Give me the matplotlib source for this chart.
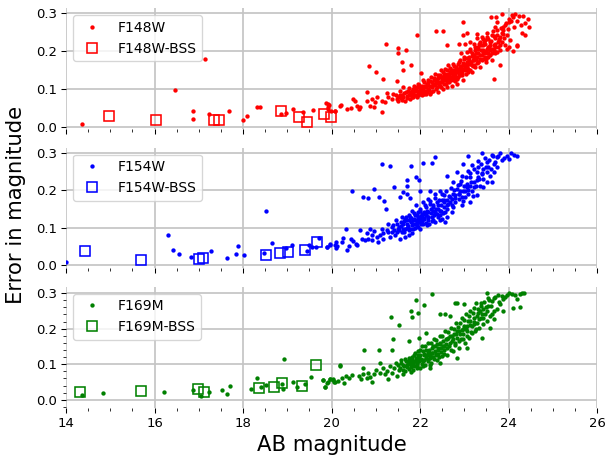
import matplotlib.pyplot as plt
from matplotlib.ticker import MultipleLocator

# (AB magnitude, error) pairs
f148w = [
    (14.35, 0.007), (16.47, 0.098), (17.13, 0.180), (16.86, 0.041), (16.86, 0.020), (17.23, 0.035),
    (17.68, 0.042), (18.00, 0.019), (18.10, 0.028), (18.32, 0.053), (18.39, 0.053), (18.86, 0.034),
    (18.96, 0.036), (19.12, 0.047), (19.36, 0.038), (19.57, 0.045), (19.88, 0.064), (19.94, 0.059),
    (19.91, 0.046), (19.98, 0.043), (20.08, 0.041), (20.18, 0.056),
    (19.93, 0.060), (19.91, 0.052), (20.08, 0.043), (20.21, 0.058), (20.34, 0.047), (20.43, 0.050),
    (20.48, 0.074), (20.52, 0.069), (20.57, 0.056), (20.61, 0.047), (20.64, 0.053), (20.79, 0.092),
    (20.79, 0.069), (20.87, 0.056), (20.91, 0.074), (20.95, 0.052), (20.98, 0.065), (21.02, 0.078),
    (21.13, 0.040), (21.13, 0.069), (21.21, 0.065), (21.25, 0.089), (21.28, 0.078), (21.36, 0.074),
    (21.40, 0.087), (21.47, 0.074), (21.51, 0.078), (21.55, 0.096), (21.59, 0.083), (21.62, 0.105),
    (21.66, 0.069), (21.68, 0.092), (21.74, 0.083), (21.74, 0.103), (21.77, 0.074), (21.81, 0.096),
    (21.85, 0.087), (21.86, 0.107), (21.92, 0.078), (21.94, 0.096), (21.96, 0.114), (22.00, 0.087),
    (22.00, 0.103), (22.04, 0.083), (22.06, 0.123), (22.07, 0.096), (22.11, 0.109), (22.14, 0.087),
    (22.17, 0.118), (22.19, 0.100), (22.23, 0.087), (22.24, 0.132), (22.26, 0.109), (22.30, 0.096),
    (22.32, 0.123), (22.34, 0.140), (22.38, 0.105), (22.39, 0.118), (22.41, 0.092), (22.44, 0.132),
    (22.45, 0.109), (22.47, 0.149), (22.49, 0.123), (22.51, 0.100), (22.53, 0.136), (22.54, 0.114),
    (22.56, 0.154), (22.59, 0.123), (22.60, 0.105), (22.63, 0.140), (22.64, 0.163), (22.66, 0.118),
    (22.68, 0.132), (22.69, 0.149), (22.72, 0.109), (22.74, 0.136), (22.75, 0.167), (22.77, 0.123),
    (22.79, 0.145), (22.81, 0.158), (22.83, 0.127), (22.84, 0.114), (22.87, 0.154), (22.89, 0.172),
    (22.90, 0.136), (22.92, 0.194), (22.94, 0.149), (22.96, 0.163), (22.98, 0.123), (22.99, 0.180),
    (23.02, 0.158), (23.04, 0.140), (23.05, 0.172), (23.07, 0.198), (23.09, 0.154), (23.11, 0.185),
    (23.13, 0.167), (23.14, 0.207), (23.17, 0.145), (23.19, 0.176), (23.21, 0.189), (23.22, 0.163),
    (23.24, 0.212), (23.27, 0.180), (23.28, 0.234), (23.30, 0.172), (23.32, 0.194), (23.34, 0.220),
    (23.36, 0.158), (23.37, 0.203), (23.39, 0.238), (23.42, 0.180), (23.43, 0.216), (23.45, 0.194),
    (23.47, 0.229), (23.49, 0.172), (23.51, 0.207), (23.52, 0.247), (23.54, 0.185), (23.57, 0.225),
    (23.58, 0.203), (23.62, 0.176), (23.64, 0.252), (23.66, 0.216), (23.69, 0.194), (23.73, 0.243),
    (23.77, 0.212), (23.79, 0.229), (23.85, 0.247), (23.87, 0.256), (23.90, 0.234), (24.00, 0.212),
    (24.03, 0.229), (24.18, 0.216),
    (21.77, 0.092), (21.85, 0.100), (21.89, 0.083), (21.92, 0.105), (21.96, 0.092), (22.00, 0.096),
    (22.04, 0.109), (22.07, 0.103), (22.11, 0.096), (22.15, 0.114), (22.19, 0.123), (22.23, 0.109),
    (22.26, 0.118), (22.30, 0.114), (22.34, 0.127), (22.38, 0.123), (22.41, 0.136), (22.45, 0.118),
    (22.49, 0.132), (22.53, 0.123), (22.56, 0.140), (22.60, 0.132), (22.64, 0.127), (22.68, 0.145),
    (22.72, 0.132), (22.75, 0.149), (22.79, 0.132), (22.83, 0.145), (22.87, 0.140), (22.90, 0.158),
    (22.94, 0.136), (22.98, 0.154), (23.02, 0.149), (23.05, 0.158), (23.09, 0.167), (23.13, 0.149),
    (23.17, 0.163), (23.21, 0.176), (23.24, 0.158), (23.28, 0.185), (23.32, 0.172), (23.36, 0.189),
    (23.39, 0.176), (23.43, 0.198), (23.47, 0.185), (23.51, 0.194), (23.54, 0.212), (23.58, 0.189),
    (23.62, 0.207), (23.66, 0.203), (23.69, 0.220), (23.73, 0.198), (23.77, 0.225), (23.81, 0.216),
    (21.51, 0.069), (21.59, 0.071), (21.71, 0.076), (21.81, 0.078), (21.62, 0.078), (21.46, 0.083),
    (22.96, 0.278), (21.92, 0.244), (22.36, 0.254), (22.52, 0.252), (21.24, 0.220), (21.51, 0.208),
    (21.50, 0.196), (21.69, 0.203), (21.60, 0.171), (21.79, 0.163), (20.84, 0.161), (21.00, 0.144),
    (21.62, 0.149), (21.17, 0.127), (21.49, 0.121), (22.02, 0.142), (22.60, 0.215), (22.88, 0.218),
    (23.02, 0.220), (23.05, 0.247), (22.98, 0.244), (23.28, 0.245), (23.66, 0.127), (23.81, 0.164),
    (24.09, 0.200), (24.20, 0.214),
    (23.60, 0.290), (23.71, 0.290), (23.85, 0.299), (23.73, 0.278), (23.69, 0.265), (23.88, 0.263),
    (23.94, 0.274), (24.01, 0.284), (24.07, 0.296), (24.15, 0.299), (24.24, 0.294), (24.33, 0.292),
    (24.43, 0.284), (24.37, 0.274), (24.46, 0.265), (24.30, 0.247), (24.37, 0.243), (24.02, 0.276),
    (24.12, 0.265), (23.96, 0.243), (23.81, 0.238), (23.62, 0.243), (23.69, 0.234), (23.51, 0.238),
    (23.43, 0.231), (23.36, 0.225), (23.47, 0.220), (23.58, 0.216), (23.85, 0.225), (23.92, 0.216),
    (23.96, 0.207), (23.81, 0.203), (23.69, 0.198), (23.54, 0.194), (23.43, 0.203), (23.32, 0.212),
    (23.24, 0.203), (23.17, 0.196), (23.21, 0.220), (23.13, 0.225),
    (21.55, 0.085), (21.58, 0.076), (21.64, 0.090), (21.70, 0.082), (21.72, 0.095), (21.78, 0.086),
    (21.83, 0.079), (21.88, 0.094), (21.90, 0.101), (21.95, 0.084), (21.98, 0.110), (22.02, 0.092),
    (22.05, 0.100), (22.08, 0.088), (22.10, 0.118), (22.13, 0.104), (22.16, 0.092), (22.18, 0.110),
    (22.21, 0.098), (22.22, 0.120), (22.25, 0.093), (22.28, 0.104), (22.31, 0.130), (22.33, 0.110),
    (22.36, 0.099), (22.37, 0.115), (22.40, 0.128), (22.43, 0.112), (22.46, 0.138), (22.48, 0.106),
    (22.50, 0.118), (22.52, 0.145), (22.55, 0.128), (22.58, 0.112), (22.61, 0.150), (22.62, 0.122),
    (22.65, 0.138), (22.67, 0.156), (22.70, 0.125), (22.73, 0.143), (22.76, 0.160), (22.78, 0.138),
    (22.80, 0.120), (22.82, 0.152), (22.85, 0.165), (22.86, 0.133), (22.88, 0.148), (22.91, 0.176),
    (22.93, 0.160), (22.95, 0.143), (22.97, 0.170), (23.00, 0.185), (23.03, 0.165), (23.06, 0.182),
    (23.08, 0.146), (23.10, 0.176), (23.12, 0.200), (23.15, 0.172), (23.18, 0.186), (23.20, 0.160),
    (23.23, 0.182), (23.26, 0.196), (23.29, 0.168), (23.31, 0.205), (23.35, 0.178), (23.38, 0.215),
    (23.41, 0.190), (23.44, 0.225), (23.48, 0.200), (23.50, 0.178), (23.53, 0.232), (23.56, 0.212),
    (23.60, 0.228), (23.63, 0.195), (23.67, 0.240), (23.70, 0.212), (23.75, 0.255), (23.78, 0.232),
    (23.83, 0.262), (23.88, 0.245), (23.93, 0.270), (23.98, 0.258), (24.05, 0.280), (24.10, 0.290),
    (24.20, 0.280), (24.28, 0.270),
]
f148w_bss = [
    (14.98, 0.029), (16.04, 0.017), (17.35, 0.019), (17.46, 0.019), (18.86, 0.041),
    (19.27, 0.027), (19.45, 0.012), (19.83, 0.034), (19.98, 0.027),
]

f154w = [
    (14.00, 0.008), (16.30, 0.082), (16.42, 0.040), (16.56, 0.031), (16.82, 0.022), (17.28, 0.039),
    (17.63, 0.019), (17.83, 0.031), (17.88, 0.052), (18.02, 0.027), (18.51, 0.144), (18.48, 0.034),
    (18.66, 0.060), (18.96, 0.047), (19.11, 0.055), (19.44, 0.038), (19.48, 0.055), (19.55, 0.049),
    (19.66, 0.049), (19.72, 0.073), (19.89, 0.049), (19.97, 0.055), (20.10, 0.061), (20.12, 0.051),
    (20.46, 0.197), (20.72, 0.182), (20.83, 0.180), (20.95, 0.202), (21.13, 0.270), (21.32, 0.263),
    (21.79, 0.264), (22.06, 0.272), (22.28, 0.272), (22.34, 0.287), (21.91, 0.236), (21.71, 0.226),
    (21.71, 0.211), (21.41, 0.208), (21.62, 0.195), (21.70, 0.189), (21.55, 0.182), (21.08, 0.183),
    (21.19, 0.171), (21.22, 0.151), (22.00, 0.199), (21.77, 0.180), (21.98, 0.226),
    (23.09, 0.292), (23.39, 0.298), (23.62, 0.294), (23.81, 0.298), (23.96, 0.292), (24.13, 0.294),
    (24.00, 0.283), (23.85, 0.279), (23.66, 0.270), (23.51, 0.274), (23.32, 0.277), (23.17, 0.268),
    (22.98, 0.270), (23.09, 0.252), (23.28, 0.248), (23.43, 0.257), (23.66, 0.248), (23.73, 0.261),
    (23.58, 0.239), (23.43, 0.230), (23.28, 0.226), (23.13, 0.235), (22.94, 0.239), (22.83, 0.248),
    (22.60, 0.239), (22.75, 0.221), (22.90, 0.217), (23.05, 0.217), (23.21, 0.208), (23.36, 0.212),
    (23.51, 0.221), (23.62, 0.221), (23.28, 0.186), (23.13, 0.168), (23.02, 0.182), (23.09, 0.190),
    (22.90, 0.199), (22.87, 0.177), (22.94, 0.160), (22.75, 0.155), (22.72, 0.142), (22.60, 0.173),
    (22.53, 0.186), (22.45, 0.199), (22.34, 0.190), (22.23, 0.199), (22.56, 0.115), (22.60, 0.129),
    (22.49, 0.124), (22.38, 0.137), (22.30, 0.160), (22.19, 0.177),
    (19.89, 0.049), (19.97, 0.056), (20.08, 0.054), (20.10, 0.047), (20.23, 0.063), (20.25, 0.074),
    (20.33, 0.098), (20.34, 0.040), (20.40, 0.051), (20.43, 0.071), (20.49, 0.065), (20.55, 0.058),
    (20.58, 0.054), (20.64, 0.093), (20.68, 0.069), (20.79, 0.086), (20.83, 0.071), (20.87, 0.098),
    (20.91, 0.080), (20.96, 0.092), (21.06, 0.063), (21.10, 0.080), (21.13, 0.098), (21.17, 0.071),
    (21.25, 0.093), (21.28, 0.111), (21.32, 0.076), (21.36, 0.089), (21.40, 0.107), (21.43, 0.080),
    (21.46, 0.120), (21.51, 0.098), (21.55, 0.071), (21.59, 0.129), (21.61, 0.111), (21.64, 0.089),
    (21.68, 0.120), (21.71, 0.100), (21.74, 0.133), (21.76, 0.080), (21.79, 0.115), (21.81, 0.146),
    (21.83, 0.098), (21.86, 0.124), (21.89, 0.111), (21.91, 0.160), (21.92, 0.133), (21.96, 0.102),
    (21.98, 0.120), (22.01, 0.146), (22.04, 0.129), (22.06, 0.168), (22.07, 0.111), (22.11, 0.137),
    (22.14, 0.155), (22.17, 0.120), (22.19, 0.142), (22.23, 0.164), (22.26, 0.129), (22.30, 0.146),
    (22.34, 0.115), (22.38, 0.168), (22.41, 0.151), (22.45, 0.133), (22.49, 0.173), (22.53, 0.155),
    (22.56, 0.142), (22.64, 0.164), (22.68, 0.182), (22.75, 0.190), (22.79, 0.168), (22.83, 0.204),
    (22.98, 0.199), (23.05, 0.208), (23.17, 0.199), (23.43, 0.208),
    (21.28, 0.089), (21.36, 0.102), (21.41, 0.093), (21.47, 0.111), (21.53, 0.102), (21.56, 0.115),
    (21.62, 0.098), (21.66, 0.124), (21.70, 0.111), (21.74, 0.093), (21.77, 0.129), (21.81, 0.107),
    (21.85, 0.120), (21.89, 0.133), (21.92, 0.115), (21.96, 0.142), (22.00, 0.124), (22.04, 0.137),
    (22.09, 0.124), (22.14, 0.133), (22.19, 0.129), (22.24, 0.151), (22.34, 0.142), (22.41, 0.160),
    (22.47, 0.146), (22.54, 0.168), (22.60, 0.160), (22.68, 0.168), (22.72, 0.177), (22.79, 0.186),
    (22.87, 0.190), (22.94, 0.182), (23.02, 0.199), (23.13, 0.212), (23.21, 0.221), (23.32, 0.235),
    (23.39, 0.243), (23.51, 0.248), (23.54, 0.261), (23.73, 0.287),
    (21.47, 0.089), (21.66, 0.076), (21.81, 0.085), (22.00, 0.098), (22.15, 0.107), (22.30, 0.120),
    (22.45, 0.120), (21.17, 0.085), (21.02, 0.076), (20.76, 0.067), (20.91, 0.067),
    (21.52, 0.094), (21.57, 0.105), (21.60, 0.088), (21.63, 0.118), (21.67, 0.097), (21.69, 0.130),
    (21.72, 0.106), (21.75, 0.120), (21.78, 0.098), (21.80, 0.125), (21.84, 0.110), (21.87, 0.140),
    (21.88, 0.100), (21.90, 0.122), (21.93, 0.108), (21.95, 0.130), (21.97, 0.115), (21.99, 0.150),
    (22.02, 0.110), (22.03, 0.132), (22.05, 0.118), (22.08, 0.142), (22.10, 0.126), (22.12, 0.160),
    (22.13, 0.112), (22.16, 0.145), (22.18, 0.128), (22.20, 0.110), (22.22, 0.170), (22.25, 0.140),
    (22.27, 0.118), (22.29, 0.155), (22.31, 0.135), (22.33, 0.180), (22.36, 0.150), (22.40, 0.130),
    (22.42, 0.175), (22.44, 0.145), (22.48, 0.160), (22.50, 0.190), (22.52, 0.140), (22.55, 0.175),
    (22.58, 0.198), (22.62, 0.150), (22.65, 0.185), (22.70, 0.205), (22.73, 0.160), (22.77, 0.200),
    (22.80, 0.178), (22.85, 0.215), (22.88, 0.190), (22.92, 0.225), (22.96, 0.172), (23.00, 0.210),
    (23.04, 0.235), (23.08, 0.200), (23.12, 0.245), (23.15, 0.222), (23.19, 0.185), (23.23, 0.255),
    (23.26, 0.210), (23.30, 0.262), (23.34, 0.230), (23.38, 0.270), (23.41, 0.245), (23.46, 0.285),
    (23.49, 0.262), (23.55, 0.280), (23.60, 0.255), (23.64, 0.290), (23.70, 0.275), (23.76, 0.290),
    (23.90, 0.285), (24.05, 0.300), (24.20, 0.292),
]
f154w_bss = [
    (14.44, 0.038), (15.69, 0.014), (17.01, 0.017), (17.10, 0.020), (18.52, 0.029),
    (18.84, 0.033), (19.01, 0.035), (19.40, 0.042), (19.67, 0.063),
]

f169m = [
    (14.35, 0.014), (14.83, 0.019), (16.21, 0.022), (16.86, 0.027), (17.06, 0.010), (17.23, 0.022),
    (17.52, 0.026), (17.63, 0.016), (17.71, 0.039), (18.17, 0.029), (18.31, 0.061), (18.40, 0.036),
    (18.51, 0.041), (18.93, 0.115), (18.87, 0.044), (18.90, 0.031), (19.12, 0.050), (19.21, 0.035),
    (19.40, 0.043), (19.53, 0.063), (19.81, 0.055), (19.89, 0.047), (19.85, 0.036), (19.97, 0.059),
    (20.03, 0.056), (20.06, 0.050), (20.18, 0.096),
    (22.26, 0.297), (21.90, 0.280), (22.09, 0.268), (21.79, 0.250), (21.96, 0.244), (21.82, 0.234),
    (21.35, 0.233), (21.53, 0.211), (21.40, 0.172), (20.73, 0.139), (21.07, 0.140), (21.37, 0.140),
    (21.75, 0.165), (21.97, 0.174), (22.14, 0.188), (22.44, 0.241), (22.57, 0.240), (22.68, 0.236),
    (22.79, 0.271), (22.84, 0.272), (23.00, 0.269), (23.27, 0.271), (23.37, 0.271), (23.51, 0.300),
    (23.66, 0.287), (23.77, 0.295), (23.85, 0.292), (23.96, 0.295), (24.07, 0.299), (24.18, 0.283),
    (24.26, 0.299), (24.30, 0.301), (24.11, 0.257), (24.26, 0.261), (23.88, 0.250), (23.73, 0.254),
    (23.62, 0.240), (23.66, 0.226), (23.58, 0.203), (23.39, 0.174), (23.17, 0.188), (23.05, 0.146),
    (22.83, 0.118), (22.45, 0.104), (22.23, 0.090), (21.10, 0.104), (20.19, 0.097),
    (19.80, 0.055), (19.85, 0.035), (19.91, 0.050), (19.97, 0.059), (20.03, 0.057), (20.08, 0.050),
    (20.15, 0.052), (20.23, 0.061), (20.28, 0.047), (20.33, 0.068), (20.40, 0.061), (20.46, 0.069),
    (20.63, 0.066), (20.66, 0.057), (20.70, 0.088), (20.72, 0.071), (20.79, 0.061), (20.83, 0.075),
    (20.87, 0.063), (20.91, 0.050), (20.95, 0.071), (21.01, 0.085), (21.10, 0.075), (21.17, 0.090),
    (21.21, 0.071), (21.25, 0.080), (21.28, 0.057), (21.32, 0.094), (21.36, 0.075), (21.41, 0.090),
    (21.46, 0.104), (21.49, 0.066), (21.53, 0.085), (21.56, 0.113), (21.61, 0.097), (21.66, 0.080),
    (21.68, 0.108), (21.71, 0.091), (21.76, 0.118), (21.79, 0.101), (21.83, 0.085), (21.86, 0.125),
    (21.89, 0.108), (21.92, 0.094), (21.96, 0.137), (21.98, 0.118), (22.01, 0.090), (22.04, 0.151),
    (22.06, 0.108), (22.09, 0.127), (22.11, 0.099), (22.14, 0.141), (22.17, 0.116), (22.19, 0.160),
    (22.21, 0.132), (22.24, 0.104), (22.26, 0.146), (22.29, 0.120), (22.32, 0.170), (22.34, 0.137),
    (22.38, 0.113), (22.39, 0.156), (22.41, 0.129), (22.44, 0.179), (22.47, 0.146), (22.49, 0.123),
    (22.51, 0.165), (22.54, 0.139), (22.56, 0.193), (22.59, 0.156), (22.62, 0.127), (22.64, 0.174),
    (22.66, 0.151), (22.69, 0.203), (22.72, 0.165), (22.74, 0.137), (22.77, 0.184), (22.79, 0.160),
    (22.81, 0.217), (22.84, 0.174), (22.87, 0.146), (22.89, 0.193), (22.92, 0.170), (22.94, 0.231),
    (22.96, 0.184), (22.99, 0.207), (23.02, 0.160), (23.04, 0.240), (23.07, 0.193), (23.09, 0.221),
    (23.11, 0.174), (23.14, 0.250), (23.17, 0.207), (23.21, 0.231), (23.22, 0.259), (23.24, 0.193),
    (23.28, 0.217), (23.32, 0.245), (23.34, 0.203), (23.37, 0.231), (23.42, 0.254), (23.43, 0.212),
    (23.47, 0.240), (23.51, 0.221), (23.54, 0.264), (23.58, 0.236), (23.62, 0.278), (23.67, 0.250),
    (23.81, 0.269), (23.87, 0.283),
    (21.62, 0.085), (21.70, 0.099), (21.74, 0.108), (21.81, 0.113), (21.85, 0.097), (21.91, 0.118),
    (21.94, 0.104), (22.00, 0.125), (22.04, 0.113), (22.07, 0.137), (22.14, 0.118), (22.17, 0.132),
    (22.23, 0.123), (22.26, 0.132), (22.30, 0.151), (22.36, 0.127), (22.41, 0.146), (22.45, 0.160),
    (22.53, 0.151), (22.60, 0.170), (22.68, 0.179), (22.75, 0.170), (22.83, 0.193), (22.90, 0.184),
    (22.98, 0.198), (23.05, 0.207), (23.13, 0.221), (23.21, 0.212), (23.28, 0.236), (23.36, 0.250),
    (23.43, 0.231), (23.51, 0.250), (23.54, 0.287), (21.92, 0.088), (22.07, 0.094), (22.23, 0.097),
    (21.79, 0.078), (21.62, 0.071),
    (21.50, 0.098), (21.55, 0.090), (21.58, 0.104), (21.64, 0.094), (21.67, 0.115), (21.72, 0.100),
    (21.74, 0.087), (21.77, 0.108), (21.80, 0.092), (21.82, 0.120), (21.84, 0.103), (21.87, 0.096),
    (21.88, 0.132), (21.90, 0.112), (21.93, 0.100), (21.95, 0.125), (21.97, 0.108), (22.00, 0.140),
    (22.02, 0.115), (22.05, 0.100), (22.08, 0.128), (22.10, 0.112), (22.12, 0.150), (22.15, 0.125),
    (22.18, 0.108), (22.20, 0.140), (22.22, 0.118), (22.25, 0.160), (22.28, 0.132), (22.31, 0.115),
    (22.33, 0.150), (22.35, 0.128), (22.37, 0.168), (22.40, 0.140), (22.43, 0.120), (22.46, 0.158),
    (22.48, 0.135), (22.50, 0.180), (22.52, 0.150), (22.55, 0.130), (22.58, 0.170), (22.61, 0.145),
    (22.63, 0.190), (22.67, 0.160), (22.70, 0.140), (22.73, 0.180), (22.76, 0.200), (22.78, 0.155),
    (22.82, 0.185), (22.86, 0.205), (22.88, 0.165), (22.91, 0.215), (22.95, 0.195), (22.97, 0.170),
    (23.00, 0.225), (23.03, 0.200), (23.06, 0.180), (23.10, 0.235), (23.13, 0.210), (23.16, 0.190),
    (23.20, 0.245), (23.23, 0.220), (23.27, 0.200), (23.30, 0.255), (23.33, 0.228), (23.38, 0.265),
    (23.41, 0.240), (23.45, 0.275), (23.50, 0.260), (23.56, 0.280), (23.60, 0.265), (23.70, 0.290),
    (23.78, 0.275), (23.92, 0.290), (24.00, 0.300), (24.15, 0.295), (24.35, 0.300),
]
f169m_bss = [
    (14.32, 0.022), (15.69, 0.024), (16.99, 0.030), (17.12, 0.021), (18.36, 0.033),
    (18.70, 0.036), (18.87, 0.046), (19.33, 0.038), (19.66, 0.097),
]

panels = [
    ("F148W", "red", f148w, f148w_bss, (-0.0061, 0.3133)),
    ("F154W", "blue", f154w, f154w_bss, (-0.0079, 0.3132)),
    ("F169M", "green", f169m, f169m_bss, (-0.0225, 0.3177)),
]

fig, axes = plt.subplots(3, 1, sharex=True, figsize=(6.4, 4.8), dpi=95)
fig.subplots_adjust(left=0.1086, right=0.982, top=0.9818, bottom=0.1059, hspace=0.1525)

for i, (name, col, pts, bss, ylim) in enumerate(panels):
    ax = axes[i]
    ax.plot([p[0] for p in pts], [p[1] for p in pts], 'o', color=col, ms=3.3, mew=0, label=name)
    ax.plot([p[0] for p in bss], [p[1] for p in bss], 's', color=col, mfc='none', ms=7, mew=1.2,
            label=name + "-BSS")
    ax.set_xlim(14, 26)
    ax.set_ylim(*ylim)
    ax.xaxis.set_major_locator(MultipleLocator(2))
    ax.xaxis.set_minor_locator(MultipleLocator(0.5))
    ax.yaxis.set_major_locator(MultipleLocator(0.1))
    if i == 2:
        ax.yaxis.set_minor_locator(MultipleLocator(0.02))
    ax.grid(True, color='#c4c4c4', linewidth=1.3)
    ax.set_axisbelow(True)
    for s in ax.spines.values():
        s.set_visible(False)
    ax.tick_params(labelsize=10)
    ax.legend(loc='upper left', fontsize=10.5)

axes[2].set_xlabel("AB magnitude", fontsize=16)
fig.text(0.027, 0.55, "Error in magnitude", rotation=90, ha='center', va='center', fontsize=16)

fig.savefig("out.png")
